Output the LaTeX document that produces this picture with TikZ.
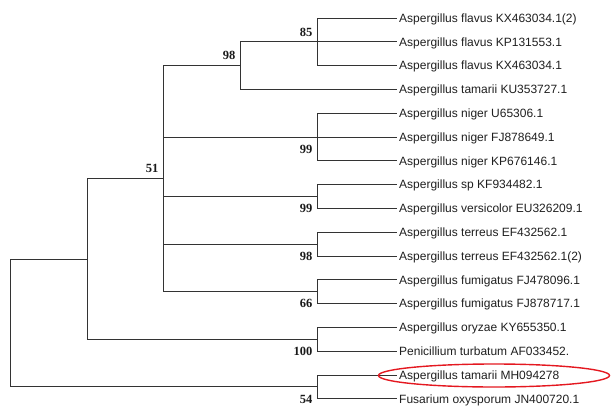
\documentclass[tikz,border=0pt]{standalone}
\usepackage{fontspec}
\setmainfont{Liberation Sans}
\newfontfamily\bootfont{Liberation Serif}
\definecolor{hlred}{RGB}{228,24,32}
\begin{document}
\begin{tikzpicture}[x=1pt,y=-1pt,
  br/.style={draw=black!80, line width=0.9pt},
  leaf/.style={anchor=west, inner xsep=2pt, inner ysep=0pt, text height=8.6pt, text depth=0pt,
               font=\fontsize{12}{14}\selectfont, text=black!88},
  boot/.style={inner sep=0pt, text height=8.4pt, text depth=0pt,
               font=\bootfont\bfseries\fontsize{12.5}{14}\selectfont, text=black!90},
  bup/.style={boot, anchor=south east, xshift=-4.5pt, yshift=5.5pt},
  bdown/.style={boot, anchor=north east, xshift=-4.5pt, yshift=-7.5pt},
]
\useasboundingbox (0,0) rectangle (611,407);

% leaves
\node[leaf] (t1)  at (397,18.0)  {Aspergillus flavus KX463034.1(2)};
\node[leaf] (t2)  at (397,41.8)  {Aspergillus flavus KP131553.1};
\node[leaf] (t3)  at (397,65.6)  {Aspergillus flavus KX463034.1};
\node[leaf] (t4)  at (397,89.4)  {Aspergillus tamarii KU353727.1};
\node[leaf] (t5)  at (397,113.2) {Aspergillus niger U65306.1};
\node[leaf] (t6)  at (397,137.0) {Aspergillus niger FJ878649.1};
\node[leaf] (t7)  at (397,160.8) {Aspergillus niger KP676146.1};
\node[leaf] (t8)  at (397,184.6) {Aspergillus sp KF934482.1};
\node[leaf] (t9)  at (397,208.4) {Aspergillus versicolor EU326209.1};
\node[leaf] (t10) at (397,232.2) {Aspergillus terreus EF432562.1};
\node[leaf] (t11) at (397,256.0) {Aspergillus terreus EF432562.1(2)};
\node[leaf] (t12) at (397,279.8) {Aspergillus fumigatus FJ478096.1};
\node[leaf] (t13) at (397,303.6) {Aspergillus fumigatus FJ878717.1};
\node[leaf] (t14) at (397,327.4) {Aspergillus oryzae KY655350.1};
\node[leaf] (t15) at (397,351.2) {Penicillium turbatum AF033452.};
\node[leaf] (t16) at (397,375.0) {Aspergillus tamarii MH094278};
\node[leaf] (t17) at (397,398.8) {Fusarium oxysporum JN400720.1};

% internal nodes
\coordinate (nfl)  at (317,41.8);
\coordinate (n98)  at (240,65.6);
\coordinate (nng)  at (317,137.0);
\coordinate (nsp)  at (317,196.5);
\coordinate (nte)  at (317,244.1);
\coordinate (nfu)  at (317,291.7);
\coordinate (n51)  at (163,178.65);
\coordinate (nor)  at (317,339.3);
\coordinate (nmid) at (87,259.0);
\coordinate (nbot) at (317,386.9);
\coordinate (root) at (10,323.0);

% branches
\draw[br] (nfl) |- (t1.west) (nfl) |- (t2.west) (nfl) |- (t3.west);
\draw[br] (n98) |- (nfl) (n98) |- (t4.west);
\draw[br] (nng) |- (t5.west) (nng) |- (t6.west) (nng) |- (t7.west);
\draw[br] (nsp) |- (t8.west) (nsp) |- (t9.west);
\draw[br] (nte) |- (t10.west) (nte) |- (t11.west);
\draw[br] (nfu) |- (t12.west) (nfu) |- (t13.west);
\draw[br] (n51) |- (n98) (n51) |- (nng) (n51) |- (nsp) (n51) |- (nte) (n51) |- (nfu);
\draw[br] (nor) |- (t14.west) (nor) |- (t15.west);
\draw[br] (nmid) |- (n51) (nmid) |- (nor);
\draw[br] (nbot) |- (t16.west) (nbot) |- (t17.west);
\draw[br] (root) |- (nmid) (root) |- (nbot);

% bootstrap values
\node[bup]   (b85)  at (nfl)  {85};
\node[bup]   (b98)  at (n98)  {98};
\node[bup]   (b51)  at (n51)  {51};
\node[bdown] (b99a) at (nng)  {99};
\node[bdown] (b99b) at (nsp)  {99};
\node[bdown] (b98b) at (nte)  {98};
\node[bdown] (b66)  at (nfu)  {66};
\node[bdown] (b100) at (nor)  {100};
\node[bdown] (b54)  at (nbot) {54};

% highlight
\draw[hlred, line width=1.4pt] (494,375.5) ellipse [x radius=115.5, y radius=11.5];
\end{tikzpicture}
\end{document}
